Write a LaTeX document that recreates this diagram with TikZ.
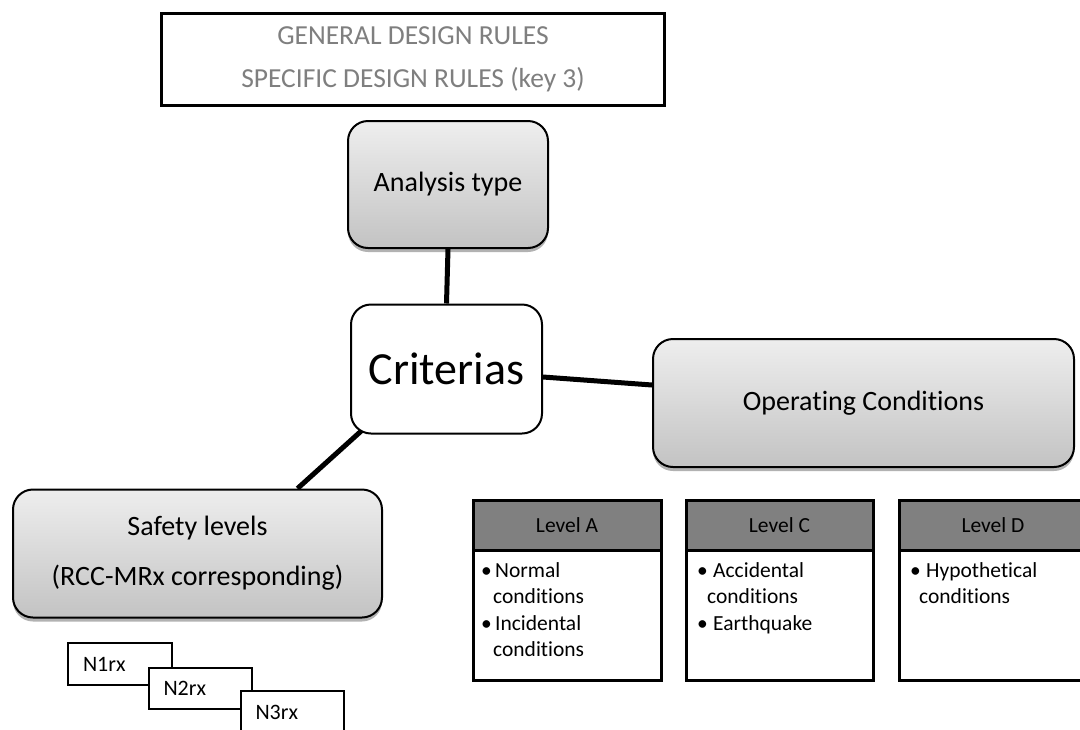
\documentclass[tikz,border=0pt]{standalone}
\usepackage{fontspec}
\setmainfont{Carlito}[Ligatures=NoCommon]
\usetikzlibrary{shadows,backgrounds}
\definecolor{titlegray}{HTML}{7F7F7F}
\definecolor{gtop}{HTML}{EEEEEE}
\definecolor{gbot}{HTML}{C3C3C3}
\definecolor{hdr}{HTML}{808080}
\begin{document}
\begin{tikzpicture}[x=1pt,y=-1pt,
  graybox/.style={draw=black, line width=2pt, rounded corners=20pt,
    top color=gtop, bottom color=gbot,
    drop shadow={shadow xshift=0pt, shadow yshift=-4pt, opacity=0.3, fill=black},
    font=\fontsize{28}{50}\selectfont, align=center, inner sep=0pt},
  titlebox/.style={draw=black, line width=3pt, fill=white, text=titlegray,
    font=\fontsize{27.5}{43}\selectfont, align=center, inner sep=0pt},
  critbox/.style={draw=black, line width=2pt, rounded corners=20pt, fill=white,
    font=\fontsize{46}{50}\selectfont, inner sep=0pt},
  conn/.style={line width=5pt},
  nbox/.style={draw=black, line width=1.2pt, fill=white, inner sep=0pt,
    font=\fontsize{22}{24}\selectfont, text width=74pt, align=left},
  lvlhead/.style={draw=black, line width=3pt, fill=hdr, inner sep=0pt,
    font=\fontsize{21.5}{24}\selectfont},
  lvlbody/.style={draw=black, line width=3pt, fill=white, inner sep=0pt},
  lvltext/.style={inner sep=0pt, anchor=north west, align=left,
    font=\fontsize{21.5}{26.5}\selectfont},
]
\useasboundingbox (0,0) rectangle (1080,729);

% title
\node[titlebox, minimum width=503pt, minimum height=92pt] (title) at (413,59.5)
  {GENERAL DESIGN RULES\\SPECIFIC DESIGN RULES (key 3)};

% main nodes
\node[graybox, minimum width=200pt, minimum height=127pt] (analysis) at (448,184.5) {Analysis type};
\node[critbox, minimum width=191pt, minimum height=129pt] (crit) at (446.5,369) {Criterias};
\node[graybox, minimum width=421pt, minimum height=128pt] (oper) at (863.5,403) {Operating Conditions};
\node[graybox, minimum width=369pt, minimum height=128pt] (safety) at (197.5,553.5)
  {Safety levels\\(RCC-MRx corresponding)};

% connectors
\coordinate (s1) at ([xshift=100pt]safety.north);
\coordinate (c1) at ([xshift=14pt,yshift=6pt]crit.south west);
\begin{pgfonlayer}{background}
\draw[conn] ([xshift=0pt]analysis.south) -- (crit.north);
\draw[conn] ([yshift=-8pt]crit.east) -- ([yshift=18pt]oper.west);
\draw[conn] (s1) -- (c1);
\end{pgfonlayer}

% N boxes
\node[nbox, minimum width=104pt, minimum height=42pt] (n1) at (120,664) {N1rx};
\node[nbox, minimum width=103pt, minimum height=41pt] (n2) at (200.5,688.5) {N2rx};
\node[nbox, minimum width=103pt, minimum height=42pt] (n3) at (292.5,712) {N3rx};

% Level A
\node[lvlbody, minimum width=188pt, minimum height=130pt] (bodyA) at (567,615) {};
\node[lvlhead, minimum width=188pt, minimum height=50pt] (headA) at (567,525) {Level A};
\node[lvltext] (textA) at (481,562)
  {\makebox[14pt][l]{•}Normal\\\hspace*{12pt}conditions\\\makebox[14pt][l]{•}Incidental\\\hspace*{12pt}conditions};

% Level C
\node[lvlbody, minimum width=187pt, minimum height=130pt] (bodyC) at (779.5,615) {};
\node[lvlhead, minimum width=187pt, minimum height=50pt] (headC) at (779.5,525) {Level C};
\node[lvltext] (textC) at (697,562)
  {\makebox[16pt][l]{•}Accidental\\\hspace*{10pt}conditions\\\makebox[16pt][l]{•}Earthquake};

% Level D
\node[lvlbody, minimum width=188pt, minimum height=130pt] (bodyD) at (993,615) {};
\node[lvlhead, minimum width=188pt, minimum height=50pt] (headD) at (993,525) {Level D};
\node[lvltext] (textD) at (910,562)
  {\makebox[16pt][l]{•}Hypothetical\\\hspace*{9pt}conditions};
\end{tikzpicture}
\end{document}
